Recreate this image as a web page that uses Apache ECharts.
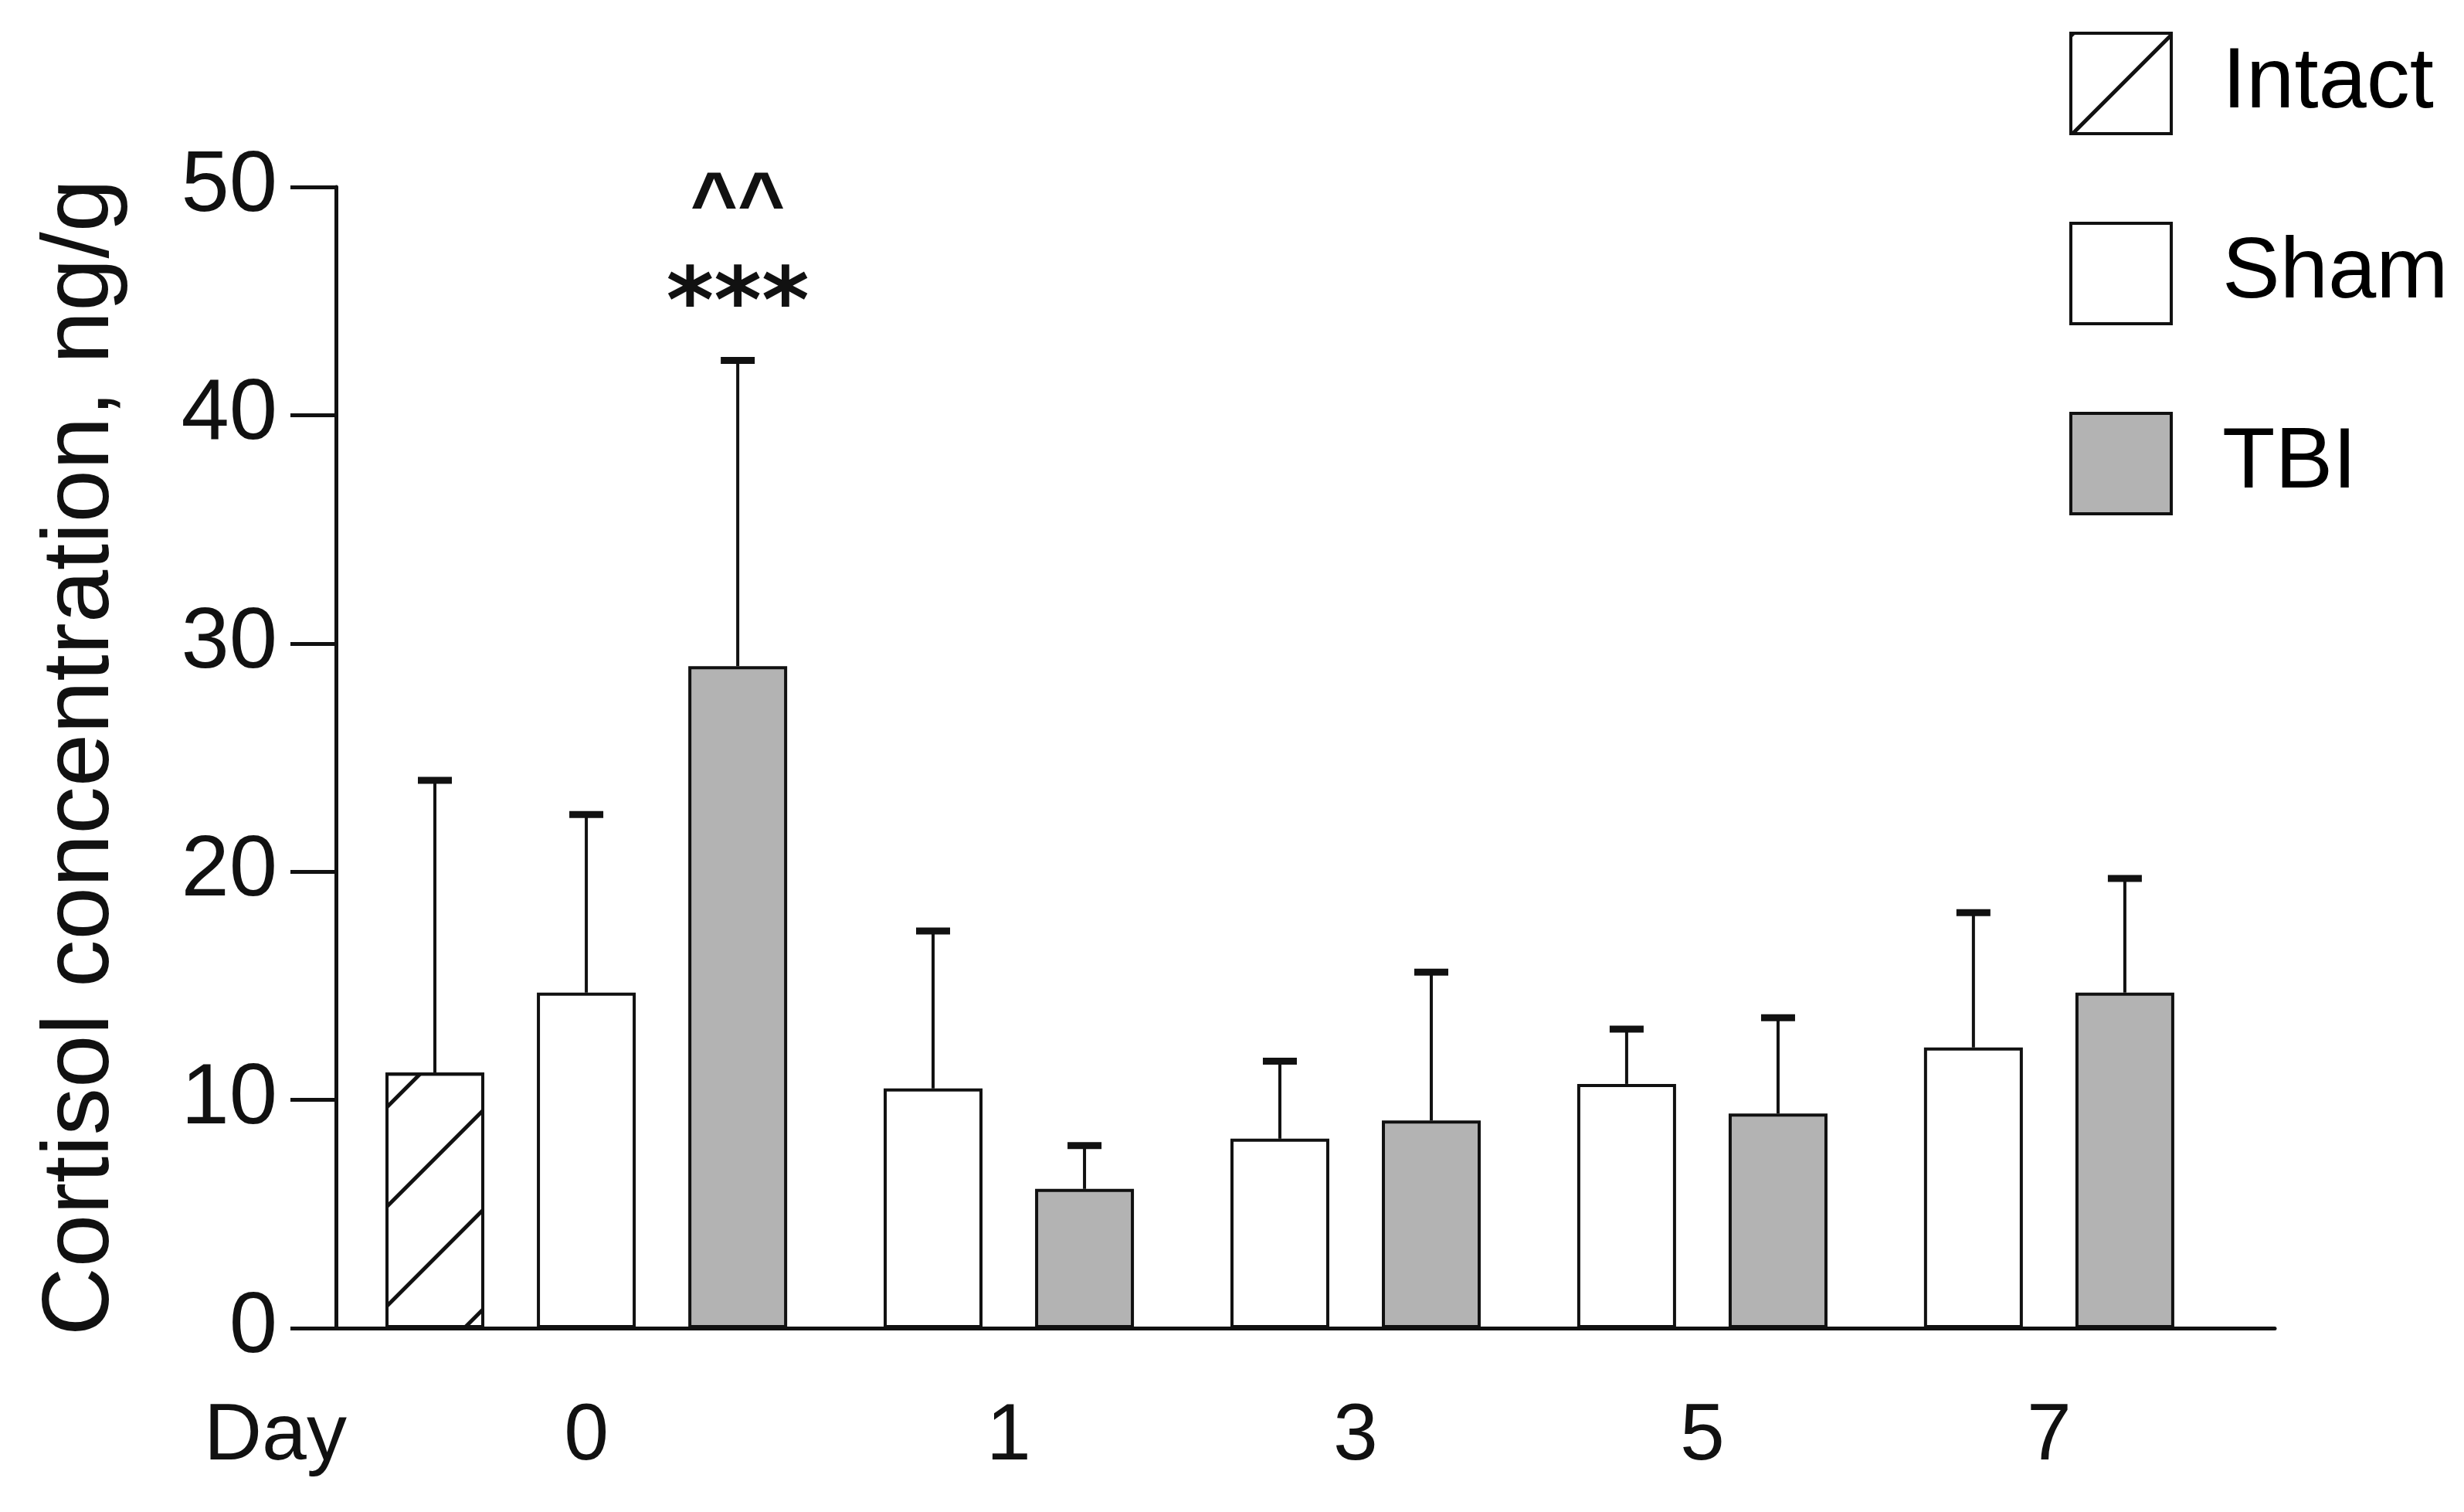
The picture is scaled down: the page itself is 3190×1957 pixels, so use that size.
<!DOCTYPE html>
<html>
<head>
<meta charset="utf-8">
<title>Cortisol concentration</title>
<script src="https://cdn.jsdelivr.net/npm/echarts@6.0.0/dist/echarts.min.js"></script>
<style>
  html, body { margin: 0; padding: 0; background: #fff; }
  #chart { width: 3190px; height: 1957px; }
</style>
</head>
<body>
<div id="chart"></div>
<script>
// values (ng/g); err = whisker top minus mean
const days = ['0', '1', '3', '5', '7'];
const intactMean = [11.2];
const intactErr = [12.8];
const shamMean = [14.7, 10.5, 8.3, 10.7, 12.3];
const shamErr = [7.8, 6.9, 3.4, 2.4, 5.9];
const tbiMean = [29.0, 6.1, 9.1, 9.4, 14.7];
const tbiErr = [13.4, 1.9, 6.5, 4.2, 5.0];
const tbiStars = ['***', '', '', '', ''];
const tbiCarets = ['^^', '', '', '', ''];

const FONT = 'Liberation Sans, Arial, Helvetica, sans-serif';
const INK = '#111';
const GREY = '#b3b3b3';

// bars sit on a hidden x scale: 1 unit between bars of the same day, a bit more between days
const GROUP_GAP = 1.29;
const slots = [];
let cursor = 0;
days.forEach(function (d, i) {
    let s = {};
    if (i < intactMean.length) {
        s.Intact = cursor;
        cursor += 1;
    }
    s.Sham = cursor;
    s.TBI = cursor + 1;
    slots.push(s);
    cursor = s.TBI + GROUP_GAP;
});
const dayCenters = slots.map(function (s) {
    let first = s.Intact !== undefined ? s.Intact : s.Sham;
    return (first + s.TBI) / 2;
});
const xMin = -0.653;
const xMax = slots[slots.length - 1].TBI + 0.99;

const intactBars = intactMean.map(function (v, i) { return [slots[i].Intact, v]; });
const shamBars = shamMean.map(function (v, i) { return [slots[i].Sham, v]; });
const tbiBars = tbiMean.map(function (v, i) { return [slots[i].TBI, v]; });

const intactWhiskers = intactMean.map(function (v, i) { return [slots[i].Intact, v, v + intactErr[i], i]; });
const shamWhiskers = shamMean.map(function (v, i) { return [slots[i].Sham, v, v + shamErr[i], i]; });
const tbiWhiskers = tbiMean.map(function (v, i) { return [slots[i].TBI, v, v + tbiErr[i], i]; });

function whisker(params, api) {
    let base = api.coord([api.value(0), api.value(1)]);
    let top = api.coord([api.value(0), api.value(2)]);
    let children = [
        { type: 'line', shape: { x1: base[0], y1: base[1], x2: top[0], y2: top[1] }, style: { stroke: INK, lineWidth: 4 } },
        { type: 'line', shape: { x1: top[0] - 22, y1: top[1], x2: top[0] + 22, y2: top[1] }, style: { stroke: INK, lineWidth: 9 } }
    ];
    // significance marks only for TBI
    if (params.seriesName === 'TBI err') {
        let idx = api.value(3);
        if (tbiStars[idx]) {
            children.push({ type: 'text', x: top[0], y: top[1] - 67, style: {
                text: tbiStars[idx], fill: INK, font: 'bold 118px DejaVu Sans', align: 'center', verticalAlign: 'middle' } });
        }
        if (tbiCarets[idx]) {
            children.push({ type: 'text', x: top[0], y: top[1] - 198, style: {
                text: tbiCarets[idx], fill: INK, font: 'bold 105px ' + FONT, align: 'center', verticalAlign: 'middle' } });
        }
    }
    return { type: 'group', children: children };
}

const hatch = {
    symbol: 'rect',
    symbolSize: 1,
    color: INK,
    dashArrayX: [1, 0],
    dashArrayY: [5, 86],
    rotation: -Math.PI / 4
};

let chart = echarts.init(document.getElementById('chart'));
chart.setOption({
    animation: false,
    backgroundColor: '#fff',
    grid: { left: 435, right: 245, top: 242, bottom: 238 },
    legend: {
        orient: 'vertical',
        left: 2679,
        top: 41,
        padding: 0,
        itemWidth: 130,
        itemHeight: 130,
        itemGap: 112,
        icon: 'rect',
        selectedMode: false,
        itemStyle: { borderColor: INK, borderWidth: 4 },
        textStyle: { fontFamily: FONT, fontSize: 112, color: '#000', padding: [0, 0, 20, 61] },
        data: ['Intact', 'Sham', 'TBI']
    },
    xAxis: {
        type: 'value',
        min: xMin,
        max: xMax,
        splitLine: { show: false },
        axisLine: { show: true, onZero: false, lineStyle: { color: INK, width: 5 } },
        axisTick: { show: false },
        axisLabel: {
            customValues: dayCenters,
            formatter: function (val) {
                let k = 0;
                dayCenters.forEach(function (c, i) { if (Math.abs(c - val) < Math.abs(dayCenters[k] - val)) k = i; });
                return days[k];
            },
            fontFamily: FONT,
            fontSize: 104,
            lineHeight: 104,
            color: INK,
            margin: 89
        }
    },
    yAxis: {
        type: 'value',
        min: 0,
        max: 50,
        interval: 10,
        name: 'Cortisol concentration, ng/g',
        nameLocation: 'middle',
        nameRotate: 90,
        nameGap: 267,
        nameTextStyle: { fontFamily: FONT, fontSize: 123, color: INK },
        splitLine: { show: false },
        axisLine: { show: true, onZero: false, lineStyle: { color: INK, width: 5 } },
        axisTick: { show: true, inside: false, length: 59, lineStyle: { color: INK, width: 5 } },
        axisLabel: { fontFamily: FONT, fontSize: 112, color: INK, margin: 76 }
    },
    graphic: [{
        type: 'text',
        x: 264,
        y: 1860,
        style: { text: 'Day', font: '104px ' + FONT, fill: INK, verticalAlign: 'middle' }
    }],
    series: [
        { name: 'Intact', type: 'bar', data: intactBars, barWidth: 128, barGap: '-100%',
          itemStyle: { color: '#fff', borderColor: INK, borderWidth: 4, decal: hatch } },
        { name: 'Sham', type: 'bar', data: shamBars, barWidth: 128, barGap: '-100%',
          itemStyle: { color: '#fff', borderColor: INK, borderWidth: 4 } },
        { name: 'TBI', type: 'bar', data: tbiBars, barWidth: 128, barGap: '-100%',
          itemStyle: { color: GREY, borderColor: INK, borderWidth: 4 } },
        { name: 'Intact err', type: 'custom', renderItem: whisker, data: intactWhiskers, z: 3 },
        { name: 'Sham err', type: 'custom', renderItem: whisker, data: shamWhiskers, z: 3 },
        { name: 'TBI err', type: 'custom', renderItem: whisker, data: tbiWhiskers, z: 3 }
    ]
});
</script>
</body>
</html>
